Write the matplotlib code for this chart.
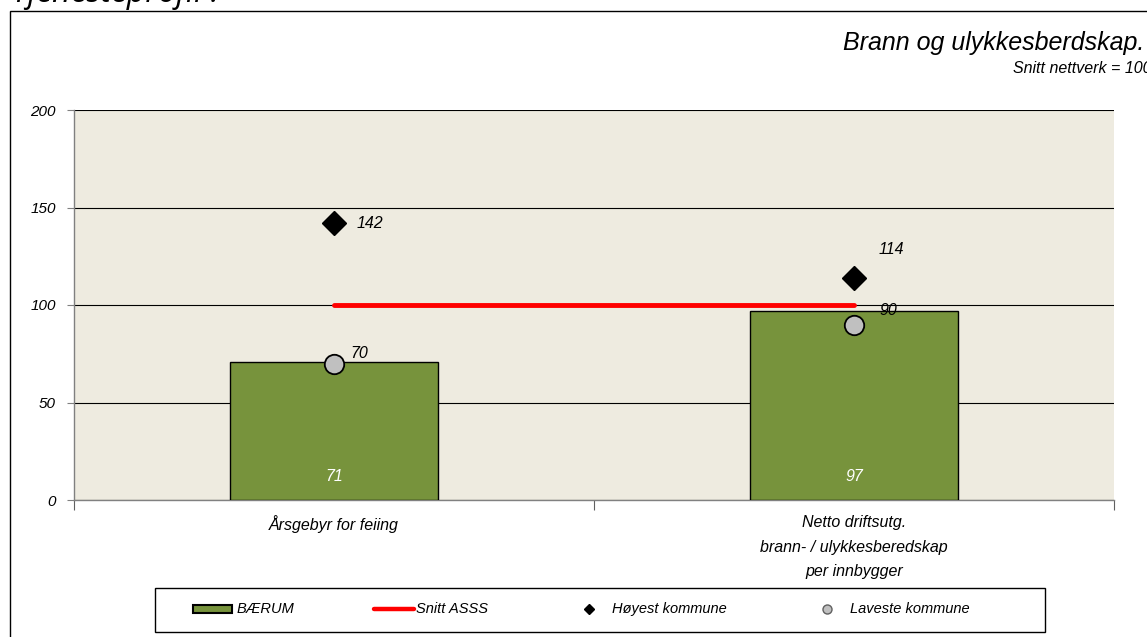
import matplotlib
matplotlib.use("Agg")
import matplotlib.pyplot as plt
from matplotlib.patches import Rectangle
from matplotlib.lines import Line2D

categories = ["Årsgebyr for feiing",
              "Netto driftsutg.\nbrann- / ulykkesberedskap\nper innbygger"]
baerum = [71, 97]
snitt_asss = [100, 100]
hoyest = [142, 114]
laveste = [70, 90]
yticks = [0, 50, 100, 150, 200]
legend_labels = ["BÆRUM", "Snitt ASSS", "Høyest kommune", "Laveste kommune"]

FONT = ["Liberation Sans", "DejaVu Sans"]
plt.rcParams["font.family"] = FONT
plt.rcParams["font.style"] = "italic"

W, H = 1147, 637
fig = plt.figure(figsize=(W / 100, H / 100), dpi=100)
fig.patch.set_facecolor("white")


def fx(px):
    return px / W


def fy(py):
    return 1 - py / H


# outer frame
fig.patches.append(Rectangle((fx(10), -0.5), 2, 1.5 - 11 / H, transform=fig.transFigure,
                             fill=False, edgecolor="black", linewidth=1.0))
fig.text(fx(12), fy(1.5), "Tjenesteprofil :", fontsize=23, style="italic",
         family=["Open Sans", "DejaVu Sans"], va="baseline", ha="left")

ax = fig.add_axes([fx(74), fy(500), (1114 - 74) / W, (500 - 110) / H])
ax.set_facecolor("#EEEBE0")

x = list(range(len(categories)))
ax.bar(x, baerum, width=0.4, color="#77933C", edgecolor="black", linewidth=1.0, zorder=3)
ax.plot(x, snitt_asss, color="#FF0000", linewidth=3.5, solid_capstyle="round", zorder=4)
ax.plot(x, hoyest, linestyle="none", marker="D", markersize=12, color="black", zorder=5)
ax.plot(x, laveste, linestyle="none", marker="o", markersize=14, markerfacecolor="#C0C0C0",
        markeredgecolor="black", markeredgewidth=1.3, zorder=5)

LBL = 11.5
for xi, v in zip(x, baerum):
    ax.text(xi, 12, f"{v}", color="white", fontsize=LBL, ha="center", va="center", zorder=6)

offs_h = [(16, 0), (18, 20)]
for xi, v, o in zip(x, hoyest, offs_h):
    ax.annotate(f"{v}", (xi, v), xytext=o, textcoords="offset points", fontsize=LBL,
                ha="left", va="center", zorder=6)
offs_l = [(12, 7), (18, 10)]
for xi, v, o in zip(x, laveste, offs_l):
    ax.annotate(f"{v}", (xi, v), xytext=o, textcoords="offset points", fontsize=LBL,
                ha="left", va="center", zorder=6)

ax.set_xlim(-0.5, len(categories) - 0.5)
ax.set_ylim(0, 200)
ax.set_yticks(yticks)
ax.set_yticklabels([str(t) for t in yticks], fontsize=11)
ax.yaxis.grid(True, color="black", linewidth=0.8, zorder=0)
ax.set_axisbelow(True)
ax.set_xticks(x)
ax.set_xticklabels(categories, fontsize=11.5, linespacing=1.8)
ax.tick_params(axis="x", length=0, pad=11)
ax.tick_params(axis="y", length=5, width=0.8, color="#808080", pad=8)
ax.set_xticks([-0.5, 0.5, 1.5], minor=True)
ax.tick_params(axis="x", which="minor", length=7, width=0.8, color="#606060")
for s in ["top", "right"]:
    ax.spines[s].set_visible(False)
for s in ["left", "bottom"]:
    ax.spines[s].set_color("#808080")
    ax.spines[s].set_linewidth(1.0)

# title
fig.text(fx(843), fy(50), "Brann og ulykkesberdskap.", fontsize=18, ha="left", va="baseline")
fig.text(fx(1013), fy(73), "Snitt nettverk = 100", fontsize=11.5, ha="left", va="baseline")

# legend (box + items)
fig.patches.append(Rectangle((fx(155), fy(632)), (1045 - 155) / W, 44 / H,
                             transform=fig.transFigure, fill=False,
                             edgecolor="black", linewidth=1.0))
ly = 609
fig.patches.append(Rectangle((fx(193), fy(ly + 4)), 39 / W, 8 / H, transform=fig.transFigure,
                             facecolor="#77933C", edgecolor="black", linewidth=1.5))
fig.add_artist(Line2D([fx(374), fx(414)], [fy(ly), fy(ly)], transform=fig.transFigure,
                      color="#FF0000", linewidth=3.2, solid_capstyle="round"))
fig.add_artist(Line2D([fx(589)], [fy(ly)], transform=fig.transFigure, linestyle="none",
                      marker="D", markersize=5.5, color="black"))
fig.add_artist(Line2D([fx(827)], [fy(ly)], transform=fig.transFigure, linestyle="none",
                      marker="o", markersize=6.5, markerfacecolor="#C0C0C0",
                      markeredgecolor="#606060"))
for px, lab in zip([237, 416, 612, 850], legend_labels):
    fig.text(fx(px), fy(ly), lab, fontsize=10.5, ha="left", va="center")

fig.savefig("out.png", dpi=100)
